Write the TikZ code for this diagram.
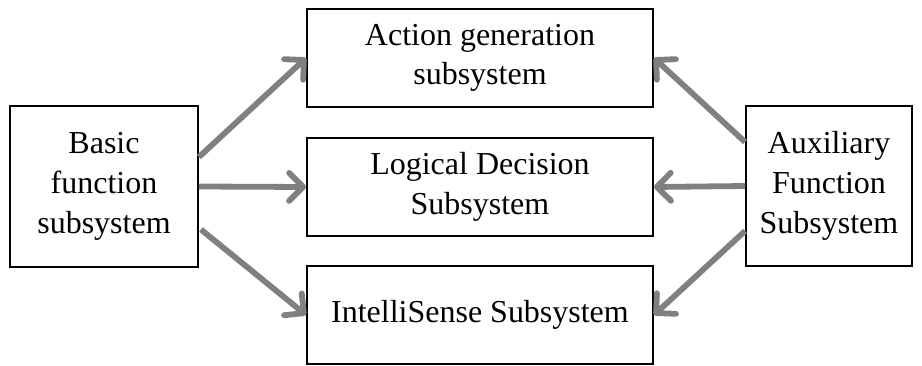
\documentclass[tikz,border=0pt]{standalone}
\usepackage{fontspec}
\setmainfont{Liberation Serif}
\usetikzlibrary{arrows.meta}
\tikzset{sysbox/.style = {draw, line width=1.1pt, align=center, inner sep=0pt,
    font=\fontsize{18.2}{22.6}\selectfont}}
\tikzset{link/.style = {draw=black!50, line width=3.3pt,
    -{Straight Barb[length=0.28cm, width=0.56cm, round]}}}

\begin{document}
\begin{tikzpicture}
\useasboundingbox (0,0) rectangle (18.44,7.3);
% outer boxes
\node [sysbox, minimum width=3.76cm, minimum height=3.22cm] (basic) at (2.08,3.57) {Basic\\function\\subsystem};
\node [sysbox, minimum width=3.32cm, minimum height=3.2cm] (aux) at (16.58,3.58) {Auxiliary\\Function\\Subsystem};
% middle column
\node [sysbox, minimum width=6.92cm, minimum height=1.96cm] (action) at (9.6,6.14) {Action generation\\subsystem};
\node [sysbox, minimum width=6.92cm, minimum height=1.96cm] (logic) at (9.6,3.56) {Logical Decision\\Subsystem};
\node [sysbox, minimum width=6.92cm, minimum height=1.96cm] (sense) at (9.6,1.0) {IntelliSense Subsystem};
% arrows
\draw [link] ([yshift=0.59cm]basic.east) -- (action.west);
\draw [link] (basic.east) -- (logic.west);
\draw [link] ([xshift=0.04cm, yshift=-0.86cm]basic.east) -- (sense.west);
\draw [link] ([yshift=0.88cm]aux.west) -- (action.east);
\draw [link] (aux.west) -- (logic.east);
\draw [link] ([yshift=-0.9cm]aux.west) -- (sense.east);
\end{tikzpicture}
\end{document}
